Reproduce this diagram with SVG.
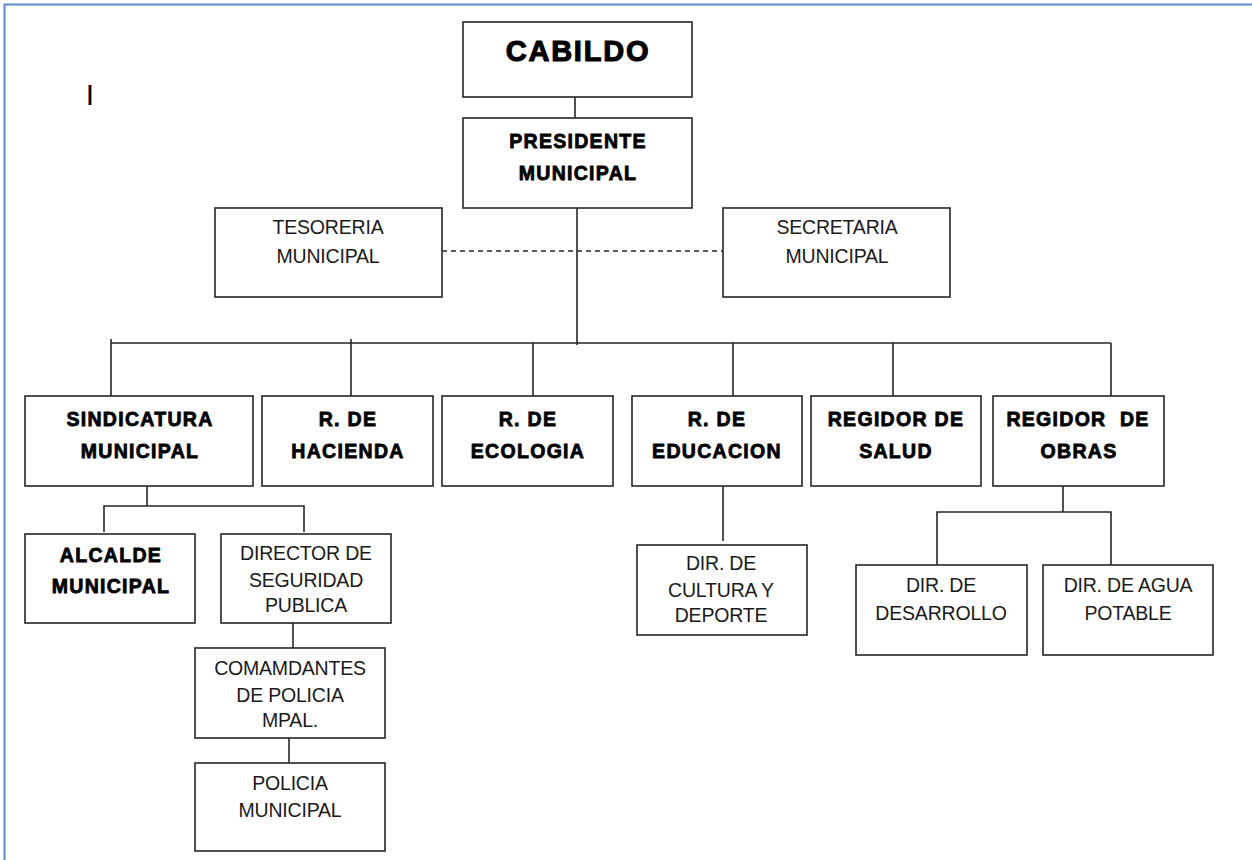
<svg xmlns="http://www.w3.org/2000/svg" width="1252" height="860" viewBox="0 0 1252 860">
<style>
.box{fill:#fff;stroke:#262626;stroke-width:1.6}
.ln{stroke:#262626;stroke-width:1.6;fill:none}
.dash{stroke:#262626;stroke-width:1.3;stroke-dasharray:5 4;fill:none}
.b{font-family:"Liberation Sans",Arial,sans-serif;font-weight:bold;font-size:19.5px;letter-spacing:1.3px;fill:#000;stroke:#000;stroke-width:0.8;text-anchor:middle}
.r{font-family:"Liberation Sans",Arial,sans-serif;font-size:19.5px;fill:#1a1a1a;text-anchor:middle;letter-spacing:-0.2px}
</style>
<rect x="4.5" y="4.5" width="1260" height="880" fill="none" stroke="#5b8bd0" stroke-width="2"/>
<text x="90" y="105" font-family="Liberation Sans, Arial, sans-serif" font-size="30" fill="#000" text-anchor="middle">I</text>
<g id="connectors">
<line class="ln" x1="575" y1="97" x2="575" y2="118"/>
<line class="ln" x1="577" y1="208" x2="577" y2="345"/>
<line class="dash" x1="442" y1="251" x2="723" y2="251"/>
<line class="ln" x1="111" y1="343" x2="1111" y2="343"/>
<line class="ln" x1="111" y1="339" x2="111" y2="396"/>
<line class="ln" x1="351" y1="339" x2="351" y2="396"/>
<line class="ln" x1="533" y1="343" x2="533" y2="396"/>
<line class="ln" x1="733" y1="343" x2="733" y2="396"/>
<line class="ln" x1="893" y1="343" x2="893" y2="396"/>
<line class="ln" x1="1111" y1="343" x2="1111" y2="396"/>
<line class="ln" x1="147" y1="486" x2="147" y2="506"/>
<polyline class="ln" points="104,532 104,506 304,506 304,532"/>
<line class="ln" x1="293" y1="623" x2="293" y2="648"/>
<line class="ln" x1="289" y1="738" x2="289" y2="763"/>
<line class="ln" x1="723" y1="486" x2="723" y2="541"/>
<line class="ln" x1="1063" y1="486" x2="1063" y2="512"/>
<polyline class="ln" points="937,565 937,512 1111,512 1111,565"/>
</g>
<g id="cabildo"><rect class="box" x="463" y="22" width="229" height="75"/><text class="b" x="578" y="61" style="font-size:29px;letter-spacing:1.8px;stroke-width:1.1">CABILDO</text></g>
<g id="presidente"><rect class="box" x="463" y="118" width="229" height="90"/><text class="b" x="578" y="148">PRESIDENTE</text><text class="b" x="578" y="180">MUNICIPAL</text></g>
<g id="tesoreria"><rect class="box" x="215" y="208" width="227" height="89"/><text class="r" x="328" y="234">TESORERIA</text><text class="r" x="328" y="263">MUNICIPAL</text></g>
<g id="secretaria"><rect class="box" x="723" y="208" width="227" height="89"/><text class="r" x="837" y="234">SECRETARIA</text><text class="r" x="837" y="263">MUNICIPAL</text></g>
<g id="sindicatura"><rect class="box" x="25" y="396" width="228" height="90"/><text class="b" x="140" y="426">SINDICATURA</text><text class="b" x="140" y="458">MUNICIPAL</text></g>
<g id="hacienda"><rect class="box" x="262" y="396" width="171" height="90"/><text class="b" x="348" y="426">R. DE</text><text class="b" x="348" y="458">HACIENDA</text></g>
<g id="ecologia"><rect class="box" x="442" y="396" width="171" height="90"/><text class="b" x="528" y="426">R. DE</text><text class="b" x="528" y="458">ECOLOGIA</text></g>
<g id="educacion"><rect class="box" x="632" y="396" width="170" height="90"/><text class="b" x="717" y="426">R. DE</text><text class="b" x="717" y="458">EDUCACION</text></g>
<g id="salud"><rect class="box" x="811" y="396" width="170" height="90"/><text class="b" x="896" y="426">REGIDOR DE</text><text class="b" x="896" y="458">SALUD</text></g>
<g id="obras"><rect class="box" x="993" y="396" width="171" height="90"/><text class="b" x="1078" y="426" xml:space="preserve">REGIDOR  DE</text><text class="b" x="1079" y="458">OBRAS</text></g>
<g id="alcalde"><rect class="box" x="25" y="534" width="170" height="89"/><text class="b" x="111" y="562">ALCALDE</text><text class="b" x="111" y="593">MUNICIPAL</text></g>
<g id="director"><rect class="box" x="221" y="534" width="170" height="89"/><text class="r" x="306" y="560">DIRECTOR DE</text><text class="r" x="306" y="587">SEGURIDAD</text><text class="r" x="306" y="612">PUBLICA</text></g>
<g id="comandantes"><rect class="box" x="195" y="648" width="190" height="90"/><text class="r" x="290" y="675">COMAMDANTES</text><text class="r" x="290" y="702">DE POLICIA</text><text class="r" x="290" y="727">MPAL.</text></g>
<g id="policia"><rect class="box" x="195" y="763" width="190" height="88"/><text class="r" x="290" y="790">POLICIA</text><text class="r" x="290" y="817">MUNICIPAL</text></g>
<g id="cultura"><rect class="box" x="637" y="545" width="170" height="90"/><text class="r" x="721" y="570">DIR. DE</text><text class="r" x="721" y="597">CULTURA Y</text><text class="r" x="721" y="622">DEPORTE</text></g>
<g id="desarrollo"><rect class="box" x="856" y="565" width="171" height="90"/><text class="r" x="941" y="592">DIR. DE</text><text class="r" x="941" y="620">DESARROLLO</text></g>
<g id="agua"><rect class="box" x="1043" y="565" width="170" height="90"/><text class="r" x="1128" y="592">DIR. DE AGUA</text><text class="r" x="1128" y="620">POTABLE</text></g>
</svg>
